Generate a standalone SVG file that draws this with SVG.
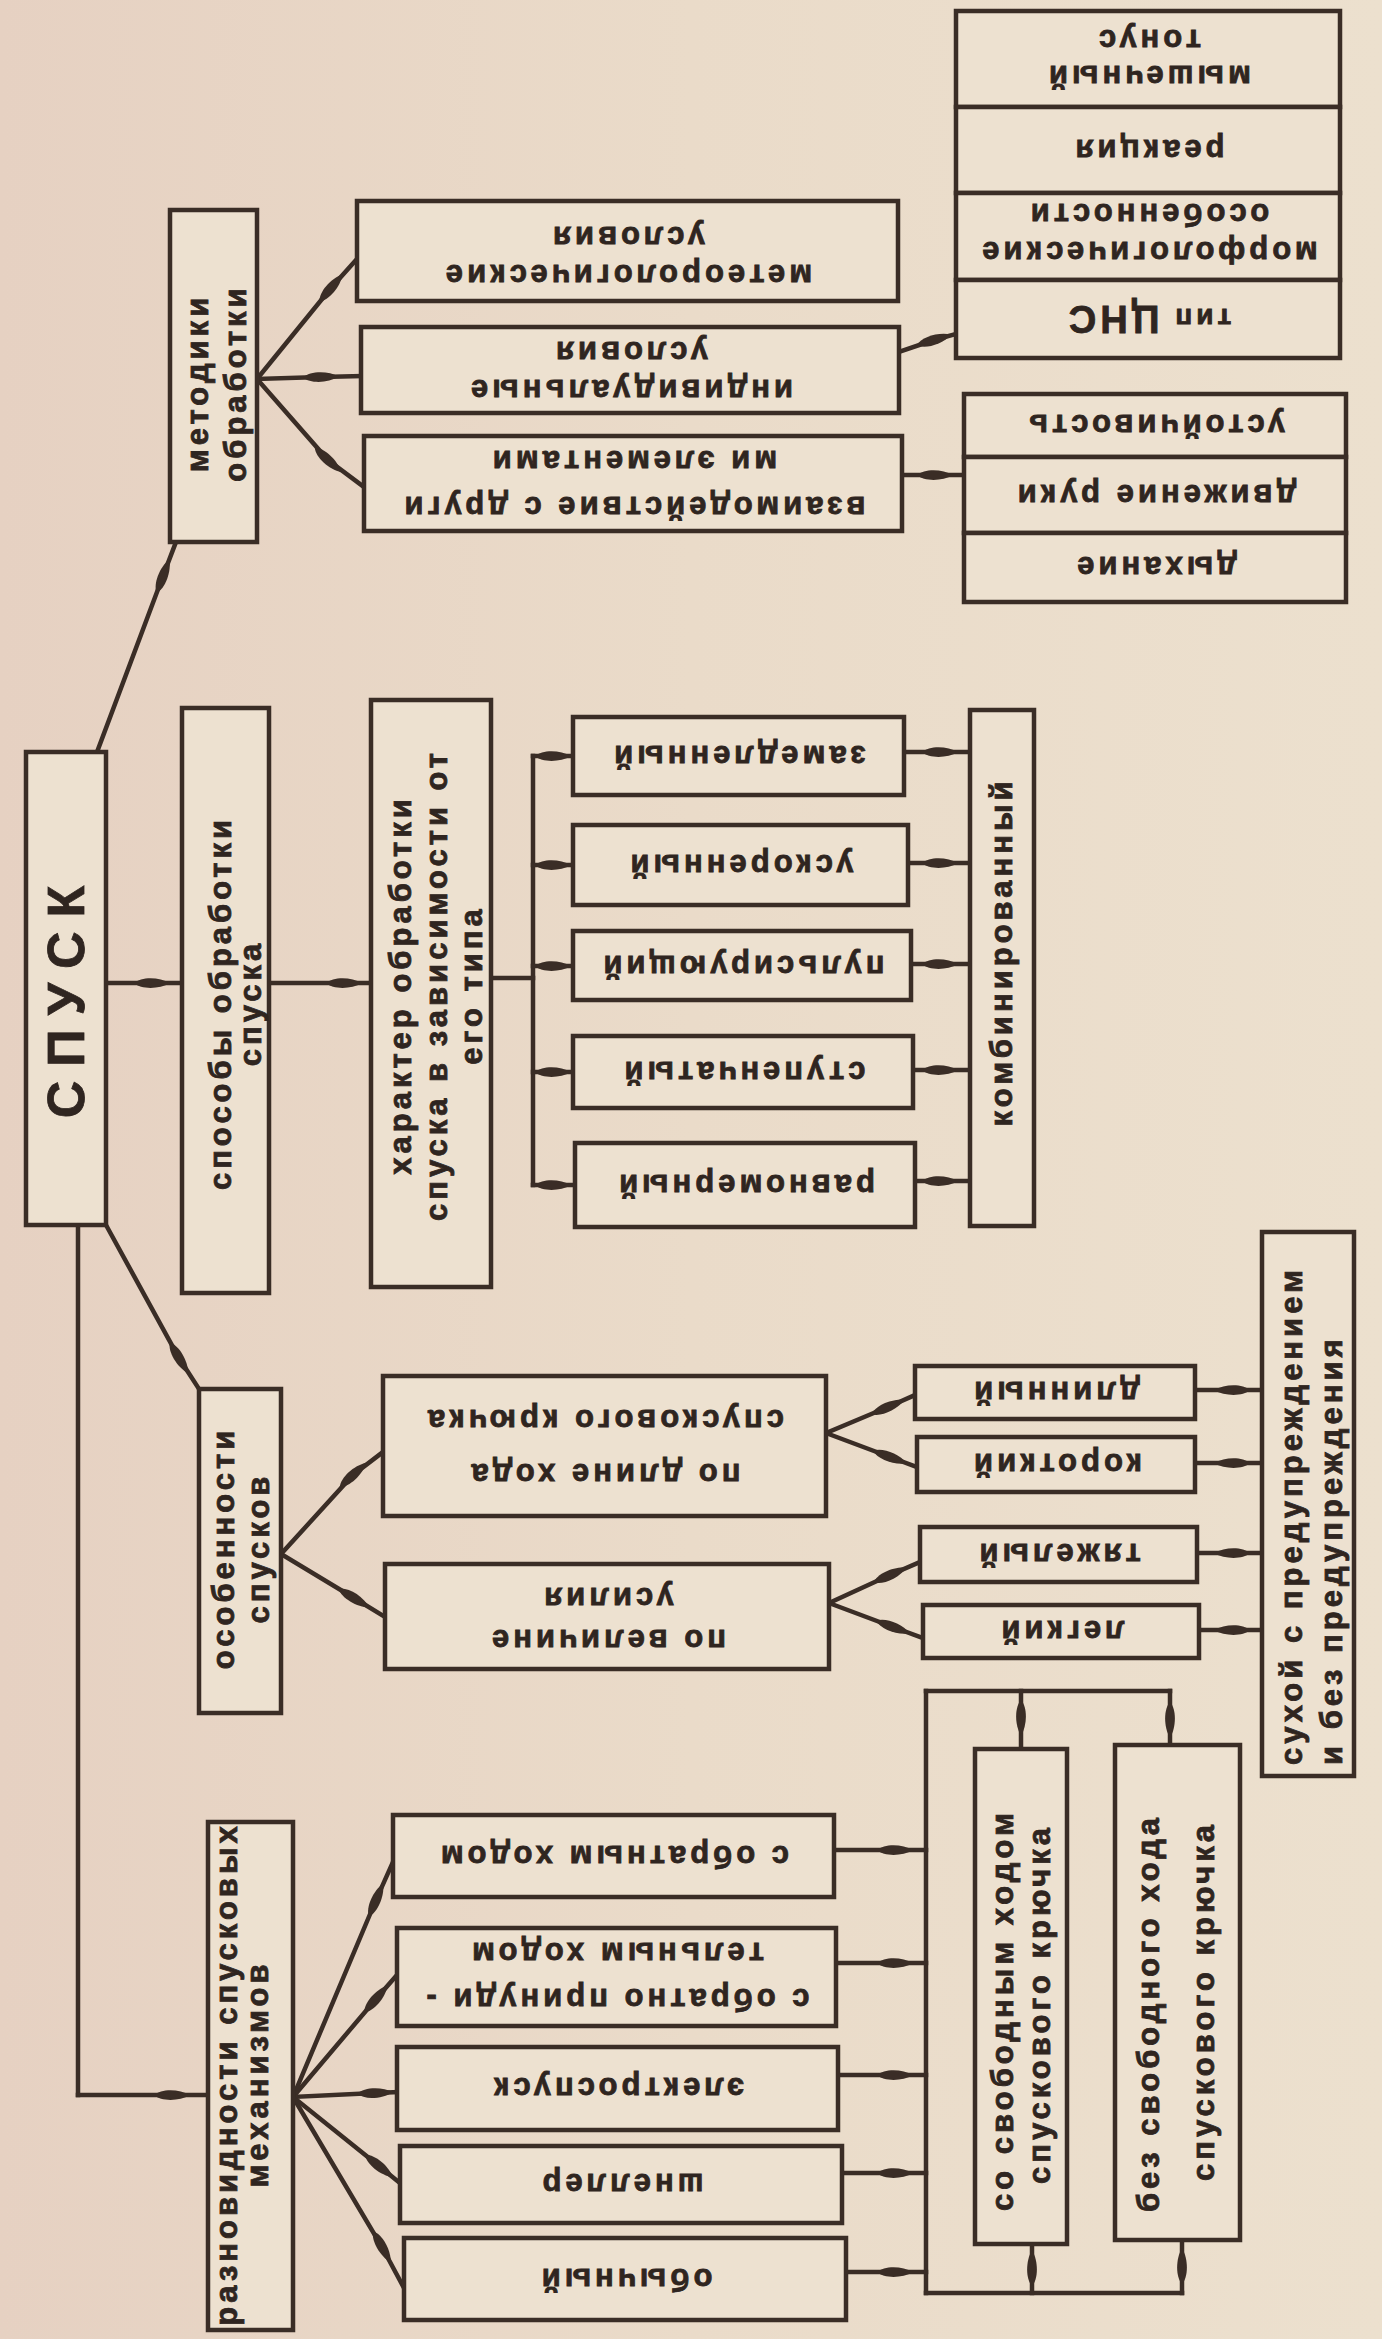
<svg xmlns="http://www.w3.org/2000/svg" width="1382" height="2339" viewBox="0 0 1382 2339">
<defs>
<linearGradient id="bg" x1="0" y1="0" x2="1" y2="0">
<stop offset="0" stop-color="#e6d1c2"/>
<stop offset="0.5" stop-color="#eadbc9"/>
<stop offset="1" stop-color="#ece0ce"/>
</linearGradient>
<marker id="sp" markerUnits="userSpaceOnUse" orient="auto" markerWidth="40" markerHeight="20" refX="20" refY="10" viewBox="0 0 40 20" overflow="visible">
<path d="M2,10 C9,3.5 27,3.5 38,10 C27,16.5 9,16.5 2,10Z" fill="#3a2d26"/>
</marker>
<style>
.b{fill:#ede1d0;stroke:#3a2d26;stroke-width:4.5}
.c{fill:none;stroke:#3a2d26;stroke-width:4.5;stroke-linecap:square;stroke-linejoin:miter}
.m{marker-mid:url(#sp)}
.t{font-family:"Liberation Sans",Arial,sans-serif;font-weight:bold;font-size:31px;letter-spacing:4px;fill:#2f2520;stroke:#2f2520;stroke-width:0.8px;text-anchor:middle;dominant-baseline:central}
.s{text-anchor:start}
.big{font-size:52px;letter-spacing:14px}
</style>
</defs>
<rect x="0" y="0" width="1382" height="2339" fill="url(#bg)"/>

<g id="connectors">
<path class="c m" d="M97 752 L163 576 L176 542"/>
<path class="c m" d="M106 983 L152 983 L182 983"/>
<path class="c m" d="M269 983 L344 983 L371 983"/>
<path class="c" d="M491 978 L533 978"/>
<path class="c" d="M533 756 L533 1185"/>
<path class="c m" d="M533 756 L553 756 L573 756"/>
<path class="c m" d="M533 865 L553 865 L573 865"/>
<path class="c m" d="M533 966 L553 966 L573 966"/>
<path class="c m" d="M533 1072 L553 1072 L573 1072"/>
<path class="c m" d="M533 1185 L553 1185 L575 1185"/>
<path class="c m" d="M904 752 L940 752 L970 752"/>
<path class="c m" d="M908 863 L940 863 L970 863"/>
<path class="c m" d="M911 964 L940 964 L970 964"/>
<path class="c m" d="M913 1070 L940 1070 L970 1070"/>
<path class="c m" d="M915 1181 L940 1181 L970 1181"/>
<path class="c m" d="M257 379 L331 288 L357 259"/>
<path class="c m" d="M257 379 L321 377 L361 376"/>
<path class="c m" d="M257 379 L328 460 L364 487"/>
<path class="c m" d="M899 352 L934 340 L956 334"/>
<path class="c m" d="M902 475 L935 475 L964 475"/>
<path class="c m" d="M106 1225 L179 1358 L199 1389"/>
<path class="c m" d="M281 1554 L353 1475 L383 1452"/>
<path class="c m" d="M281 1554 L354 1598 L385 1617"/>
<path class="c m" d="M826 1433 L888 1407 L915 1395"/>
<path class="c m" d="M826 1433 L890 1457 L917 1467"/>
<path class="c m" d="M829 1603 L890 1575 L920 1562"/>
<path class="c m" d="M829 1603 L893 1627 L923 1638"/>
<path class="c m" d="M1262 1390 L1232 1390 L1195 1390"/>
<path class="c m" d="M1262 1463 L1232 1463 L1195 1463"/>
<path class="c m" d="M1262 1553 L1232 1553 L1197 1553"/>
<path class="c m" d="M1262 1630 L1232 1630 L1199 1630"/>
<path class="c" d="M78 1225 L78 2095"/>
<path class="c m" d="M78 2095 L172 2095 L208 2095"/>
<path class="c m" d="M293 2097 L376 1900 L393 1862"/>
<path class="c m" d="M293 2097 L376 1999 L397 1975"/>
<path class="c m" d="M293 2097 L375 2093 L397 2092"/>
<path class="c m" d="M293 2097 L379 2166 L400 2183"/>
<path class="c m" d="M293 2097 L382 2247 L404 2288"/>
<path class="c m" d="M834 1850 L895 1850 L926 1850"/>
<path class="c m" d="M836 1963 L895 1963 L926 1963"/>
<path class="c m" d="M838 2075 L895 2075 L926 2075"/>
<path class="c m" d="M842 2173 L895 2173 L926 2173"/>
<path class="c m" d="M846 2272 L895 2272 L926 2272"/>
<path class="c" d="M926 1691 L926 2293"/>
<path class="c" d="M926 1691 L1170 1691"/>
<path class="c" d="M926 2293 L1182 2293"/>
<path class="c m" d="M1021 1691 L1021 1718 L1021 1749"/>
<path class="c m" d="M1170 1691 L1170 1720 L1170 1745"/>
<path class="c m" d="M1032 2293 L1032 2268 L1032 2244"/>
<path class="c m" d="M1182 2293 L1182 2266 L1182 2240"/>
</g>

<g id="n-spusk"><rect class="b" x="26" y="752" width="80" height="473"/><text class="t big" transform="translate(66,995) rotate(-90)">СПУСК</text></g>

<g id="n-metodiki"><rect class="b" x="170" y="210" width="87" height="332"/>
<text class="t" transform="translate(197,383) rotate(-90)">методики</text>
<text class="t" transform="translate(235,383) rotate(-90)">обработки</text></g>

<g id="n-meteo"><rect class="b" x="357" y="201" width="541" height="100"/>
<text class="t" transform="translate(627,237) rotate(180)">условия</text>
<text class="t" transform="translate(627,275) rotate(180)">метеорологические</text></g>

<g id="n-individ"><rect class="b" x="361" y="327" width="538" height="86"/>
<text class="t" transform="translate(630,352) rotate(180)">условия</text>
<text class="t" transform="translate(630,390) rotate(180)">индивидуальные</text></g>

<g id="n-vzaim"><rect class="b" x="364" y="436" width="538" height="95"/>
<text class="t" transform="translate(633,461) rotate(180)">ми элементами</text>
<text class="t" transform="translate(633,507) rotate(180)">взаимодействие с други</text></g>

<g id="n-tonus"><rect class="b" x="956" y="11" width="384" height="96"/>
<text class="t" transform="translate(1148,40) rotate(180)">тонус</text>
<text class="t" transform="translate(1148,76) rotate(180)">мышечный</text></g>
<g id="n-reakciya"><rect class="b" x="956" y="107" width="384" height="86"/>
<text class="t" transform="translate(1148,150) rotate(180)">реакция</text></g>
<g id="n-morf"><rect class="b" x="956" y="193" width="384" height="87"/>
<text class="t" transform="translate(1148,214) rotate(180)">особенности</text>
<text class="t" transform="translate(1148,252) rotate(180)">морфологические</text></g>
<g id="n-cns"><rect class="b" x="956" y="280" width="384" height="78"/>
<text class="t" transform="translate(1148,319) rotate(180)"><tspan font-size="28">тип </tspan><tspan font-size="38">ЦНС</tspan></text></g>

<g id="n-ustoich"><rect class="b" x="964" y="394" width="382" height="63"/>
<text class="t" transform="translate(1155,425) rotate(180)">устойчивость</text></g>
<g id="n-dvizh"><rect class="b" x="964" y="457" width="382" height="76"/>
<text class="t" transform="translate(1155,495) rotate(180)">движение руки</text></g>
<g id="n-dyh"><rect class="b" x="964" y="533" width="382" height="69"/>
<text class="t" transform="translate(1155,567) rotate(180)">дыхание</text></g>

<g id="n-sposoby"><rect class="b" x="182" y="708" width="87" height="585"/>
<text class="t" transform="translate(220,1003) rotate(-90)">способы обработки</text>
<text class="t" transform="translate(250,1003) rotate(-90)">спуска</text></g>

<g id="n-harakter"><rect class="b" x="371" y="700" width="120" height="587"/>
<text class="t" transform="translate(400,985) rotate(-90)">характер обработки</text>
<text class="t" transform="translate(436,985) rotate(-90)">спуска в зависимости от</text>
<text class="t" transform="translate(471,985) rotate(-90)">его типа</text></g>

<g id="n-zamed"><rect class="b" x="573" y="717" width="331" height="78"/>
<text class="t" transform="translate(738,756) rotate(180)">замедленный</text></g>
<g id="n-uskor"><rect class="b" x="573" y="825" width="335" height="80"/>
<text class="t" transform="translate(740,865) rotate(180)">ускоренный</text></g>
<g id="n-puls"><rect class="b" x="573" y="931" width="338" height="69"/>
<text class="t" transform="translate(742,966) rotate(180)">пульсирующий</text></g>
<g id="n-stup"><rect class="b" x="573" y="1036" width="340" height="72"/>
<text class="t" transform="translate(743,1072) rotate(180)">ступенчатый</text></g>
<g id="n-ravn"><rect class="b" x="575" y="1143" width="340" height="84"/>
<text class="t" transform="translate(745,1185) rotate(180)">равномерный</text></g>

<g id="n-komb"><rect class="b" x="970" y="710" width="64" height="516"/>
<text class="t" transform="translate(1001,952) rotate(-90)">комбинированный</text></g>

<g id="n-osob"><rect class="b" x="199" y="1389" width="82" height="324"/>
<text class="t" transform="translate(223,1548) rotate(-90)">особенности</text>
<text class="t" transform="translate(258,1548) rotate(-90)">спусков</text></g>

<g id="n-dlina"><rect class="b" x="383" y="1376" width="443" height="140"/>
<text class="t" transform="translate(604,1420) rotate(180)">спускового крючка</text>
<text class="t" transform="translate(604,1474) rotate(180)">по длине хода</text></g>

<g id="n-velich"><rect class="b" x="385" y="1564" width="444" height="105"/>
<text class="t" transform="translate(607,1598) rotate(180)">усилия</text>
<text class="t" transform="translate(607,1640) rotate(180)">по величине</text></g>

<g id="n-dlinnyi"><rect class="b" x="915" y="1366" width="280" height="53"/>
<text class="t" transform="translate(1055,1392) rotate(180)">длинный</text></g>
<g id="n-korotkii"><rect class="b" x="917" y="1437" width="278" height="55"/>
<text class="t" transform="translate(1056,1464) rotate(180)">короткий</text></g>
<g id="n-tyazhelyi"><rect class="b" x="920" y="1527" width="277" height="55"/>
<text class="t" transform="translate(1058,1554) rotate(180)">тяжелый</text></g>
<g id="n-legkii"><rect class="b" x="923" y="1605" width="276" height="53"/>
<text class="t" transform="translate(1061,1631) rotate(180)">легкий</text></g>

<g id="n-suhoi"><rect class="b" x="1262" y="1232" width="92" height="544"/>
<text class="t s" transform="translate(1291,1765) rotate(-90)">сухой с предупреждением</text>
<text class="t s" transform="translate(1331,1765) rotate(-90)">и без предупреждения</text></g>

<g id="n-raznov"><rect class="b" x="208" y="1822" width="85" height="508"/>
<text class="t" transform="translate(226,2074) rotate(-90)">разновидности спусковых</text>
<text class="t" transform="translate(257,2074) rotate(-90)">механизмов</text></g>

<g id="n-obrat"><rect class="b" x="393" y="1815" width="441" height="82"/>
<text class="t" transform="translate(613,1856) rotate(180)">с обратным ходом</text></g>
<g id="n-obratpr"><rect class="b" x="397" y="1928" width="439" height="98"/>
<text class="t" transform="translate(616,1953) rotate(180)">тельным ходом</text>
<text class="t" transform="translate(616,1999) rotate(180)">с обратно принуди -</text></g>
<g id="n-elektro"><rect class="b" x="397" y="2047" width="441" height="83"/>
<text class="t" transform="translate(617,2088) rotate(180)">электроспуск</text></g>
<g id="n-shneller"><rect class="b" x="400" y="2146" width="442" height="77"/>
<text class="t" transform="translate(621,2184) rotate(180)">шнеллер</text></g>
<g id="n-obych"><rect class="b" x="404" y="2238" width="442" height="82"/>
<text class="t" transform="translate(625,2279) rotate(180)">обычный</text></g>

<g id="n-sosvob"><rect class="b" x="975" y="1749" width="92" height="495"/>
<text class="t" transform="translate(1002,2010) rotate(-90)">со свободным ходом</text>
<text class="t" transform="translate(1039,2004) rotate(-90)">спускового крючка</text></g>
<g id="n-bezsvob"><rect class="b" x="1115" y="1745" width="125" height="495"/>
<text class="t" transform="translate(1148,2013) rotate(-90)">без свободного хода</text>
<text class="t" transform="translate(1203,2001) rotate(-90)">спускового крючка</text></g>
</svg>
